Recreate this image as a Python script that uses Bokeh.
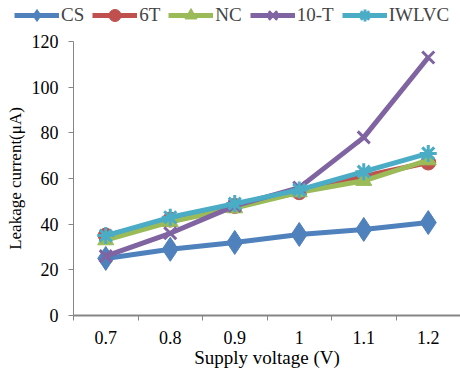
from bokeh.plotting import figure
from bokeh.models import Range1d, FixedTicker, Legend, LegendItem
from bokeh.embed import file_html
from bokeh.resources import INLINE

voltages = ["0.7", "0.8", "0.9", "1", "1.1", "1.2"]
cs = [25, 29, 32, 35.5, 37.7, 40.7]
t6 = [35, 42, 48, 54, 61, 67]
nc = [33, 41, 47, 54, 59, 68]
t10 = [26, 36, 48, 56, 78, 113]
iwlvc = [35, 43, 49, 55, 63, 71]
y_ticks = [0, 20, 40, 60, 80, 100, 120]

FONT = "Liberation Serif"
AX = "#868686"

xs = list(range(len(voltages)))
n = len(voltages)
PX_X = 64.5      # pixels per category
PX_Y = 274 / 120  # pixels per µA

p = figure(width=460, height=373, output_backend="svg", toolbar_location=None,
           x_range=Range1d(-0.5 - 73 / PX_X, n - 0.5),
           y_range=Range1d(-58 / PX_Y, 120 + 41 / PX_Y),
           min_border_left=0, min_border_right=0, min_border_top=0, min_border_bottom=0)
p.outline_line_color = None
p.xgrid.visible = False
p.ygrid.visible = False
p.background_fill_color = "white"

series = [
    ("CS", cs, "#4F81BD", "diamond", 24),
    ("6T", t6, "#C0504D", "circle", 15),
    ("NC", nc, "#9BBB59", "triangle", 16),
    ("10-T", t10, "#8064A2", "x", 17),
    ("IWLVC", iwlvc, "#4BACC6", "asterisk", 17),
]

items = []
for name, ys, col, mk, sz in series:
    l = p.line(xs, ys, line_color=col, line_width=5)
    if mk in ("x", "asterisk"):
        m = p.scatter(xs, ys, marker=mk, size=sz, line_color=col, line_width=3)
    else:
        m = p.scatter(xs, ys, marker=mk, size=sz, fill_color=col, line_color=col)
    items.append(LegendItem(label=name, renderers=[l, m]))

legend = Legend(items=items, orientation="horizontal", location=(14, 343),
                label_text_font=FONT, label_text_font_size="19px",
                glyph_width=45, glyph_height=30, label_standoff=2, spacing=8,
                border_line_color=None, background_fill_alpha=0,
                padding=0, margin=0)
p.add_layout(legend, "center")

xa = p.xaxis[0]
xa.fixed_location = 0
xa.bounds = (-0.5, n - 0.5)
xa.ticker = FixedTicker(ticks=xs, minor_ticks=[i + 0.5 for i in range(-1, n)])
xa.major_label_overrides = {i: v for i, v in enumerate(voltages)}
xa.major_tick_out = 0
xa.major_tick_in = 0
xa.minor_tick_out = 5
xa.minor_tick_in = 0
xa.minor_tick_line_color = AX
xa.axis_line_color = AX
xa.axis_line_width = 2
xa.axis_label = "Supply voltage (V)"
xa.axis_label_standoff = 0
xa.major_label_standoff = 10
xa.axis_label_text_font_size = "19px"

ya = p.yaxis[0]
ya.fixed_location = -0.5
ya.bounds = (0, 120)
ya.ticker = FixedTicker(ticks=y_ticks, minor_ticks=[])
ya.major_tick_out = 5
ya.major_tick_in = 0
ya.major_tick_line_color = AX
ya.axis_line_color = AX
ya.axis_line_width = 1
ya.axis_label = "Leakage current(\u03bcA)"
ya.axis_label_standoff = 4
ya.major_label_standoff = 10
ya.axis_label_text_font_size = "17px"

for ax in (xa, ya):
    ax.major_label_text_font = FONT
    ax.major_label_text_font_size = "18px"
    ax.major_label_text_color = "black"
    ax.axis_label_text_font = FONT
    ax.axis_label_text_font_style = "normal"
    ax.axis_label_text_color = "black"

open("out.html", "w").write(file_html(p, INLINE))
